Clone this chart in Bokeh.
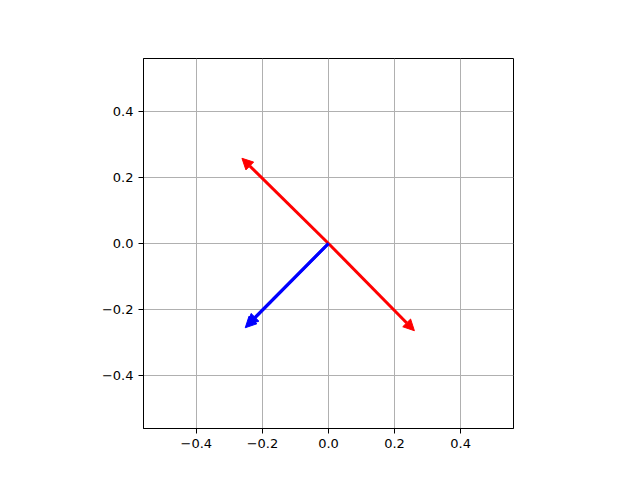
from bokeh.plotting import figure
from bokeh.models import Arrow, NormalHead, ColumnDataSource, FixedTicker, Range1d
from bokeh.embed import file_html
from bokeh.resources import INLINE

# Data
tick_values = [-0.4, -0.2, 0.0, 0.2, 0.4]
tick_labels = ["\u22120.4", "\u22120.2", "0.0", "0.2", "0.4"]

red_x0 = [0.0, 0.0]
red_y0 = [0.0, 0.0]
red_x1 = [-0.262, 0.26]
red_y1 = [0.258, -0.264]

blue_x0 = [0.0, 0.0]
blue_y0 = [0.0, 0.0]
blue_x1 = [-0.252, -0.246]
blue_y1 = [-0.255, -0.247]

p = figure(output_backend="svg", toolbar_location=None,
           frame_width=370, frame_height=370,
           min_border_left=143, min_border_top=58, min_border_right=119, min_border_bottom=44,
           x_range=Range1d(-0.56, 0.56), y_range=Range1d(-0.56, 0.56))
p.background_fill_color = "white"
p.border_fill_color = "white"
p.outline_line_color = "black"
p.outline_line_width = 1
p.outline_line_alpha = 1

for ax in (p.xaxis, p.yaxis):
    ax.ticker = FixedTicker(ticks=tick_values)
    ax.major_label_overrides = {v: l for v, l in zip(tick_values, tick_labels)}
    ax.major_label_text_font = "DejaVu Sans"
    ax.major_label_text_font_size = "13px"
    ax.major_label_text_color = "black"
    ax.major_tick_out = 5
    ax.major_tick_in = 0
    ax.minor_tick_out = 0
    ax.minor_tick_in = 0
    ax.major_label_standoff = 5
    ax.axis_line_color = "black"
    ax.major_tick_line_color = "black"

p.grid.grid_line_color = "#b0b0b0"
p.grid.grid_line_width = 1

red_src = ColumnDataSource(dict(x0=red_x0, y0=red_y0, x1=red_x1, y1=red_y1))
blue_src = ColumnDataSource(dict(x0=blue_x0, y0=blue_y0, x1=blue_x1, y1=blue_y1))

for src, color in ((red_src, "red"), (blue_src, "blue")):
    p.add_layout(Arrow(
        end=NormalHead(size=11, fill_color=color, line_color=color, line_width=1),
        x_start="x0", y_start="y0", x_end="x1", y_end="y1",
        line_color=color, line_width=3, source=src))

open("out.html", "w").write(file_html(p, INLINE))
